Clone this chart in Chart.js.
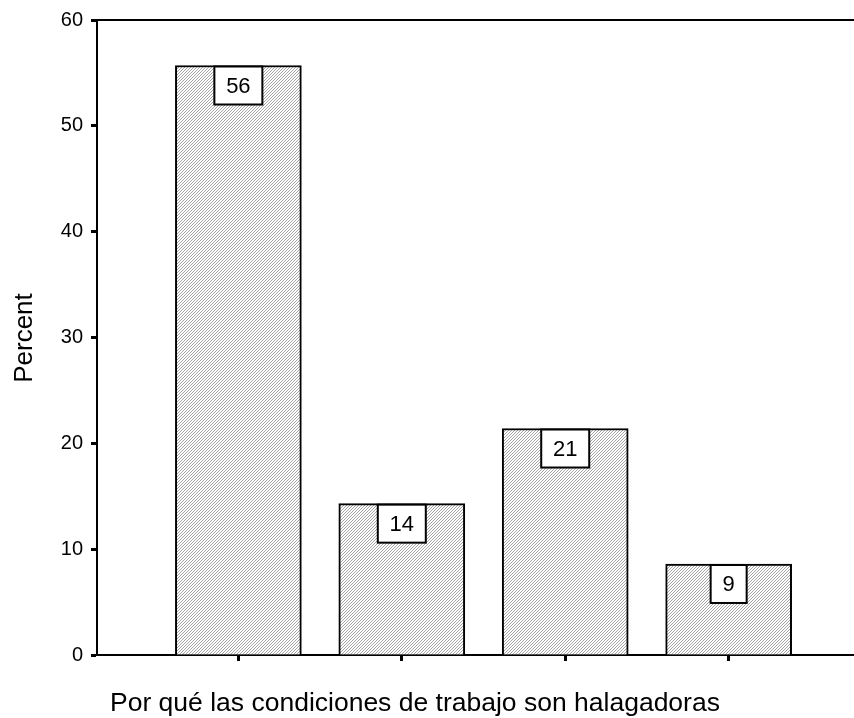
<!DOCTYPE html>
<html>
<head>
<meta charset="utf-8">
<script src="https://cdn.jsdelivr.net/npm/chart.js@4/dist/chart.umd.min.js"></script>
<style>
  body { margin: 0; background: #fff; }
  #wrap { width: 854px; height: 718px; position: relative; }
</style>
</head>
<body>
<div id="wrap"><canvas id="chartBarras"></canvas></div>
<script>
// Datos
const categorias = ['1', '2', '3', '4']; // sin etiquetas visibles en el eje
const porcentajes = [55.7, 14.3, 21.4, 8.6];
const etiquetas = ['56', '14', '21', '9'];
const ticksY = [0, 10, 20, 30, 40, 50, 60];

const tituloX = 'Por qué las condiciones de trabajo son halagadoras';
const tituloY = 'Percent';
const fuente = '"Liberation Sans", Arial, sans-serif';

// Trama de rayas diagonales (estilo SPSS)
function crearTrama() {
    const c = document.createElement('canvas');
    c.width = 3; c.height = 3;
    const g = c.getContext('2d');
    g.fillStyle = '#ffffff';
    g.fillRect(0, 0, 3, 3);
    g.fillStyle = '#a4a4a4';
    for (let i = 0; i < 3; i++) g.fillRect(2 - i, i, 1, 1);
    return g.createPattern(c, 'repeat');
}

// Borde superior, etiquetas de valor y títulos
const extras = {
    id: 'extras',
    afterDatasetsDraw(chart) {
        const ctx = chart.ctx;
        const meta = chart.getDatasetMeta(0);
        ctx.save();
        ctx.font = '22px ' + fuente;
        ctx.textAlign = 'center';
        ctx.textBaseline = 'middle';
        meta.data.forEach((bar, i) => {
            const txt = etiquetas[i];
            const w = txt.length > 1 ? 48 : 36;
            const h = 38;
            const x = bar.x - w / 2;
            const y = bar.y + 1;
            ctx.fillStyle = '#fff';
            ctx.fillRect(x, y, w, h);
            ctx.strokeStyle = '#000';
            ctx.lineWidth = 2;
            ctx.strokeRect(x, y, w, h);
            ctx.fillStyle = '#000';
            ctx.fillText(txt, bar.x, y + h / 2 + 1);
        });
        ctx.restore();
    },
    afterDraw(chart) {
        const { ctx, chartArea } = chart;
        ctx.save();
        ctx.strokeStyle = '#000';
        ctx.lineWidth = 2;
        ctx.beginPath();
        ctx.moveTo(chartArea.left - 1, chartArea.top);
        ctx.lineTo(chartArea.right, chartArea.top);
        ctx.stroke();

        ctx.fillStyle = '#000';
        ctx.font = '26.5px ' + fuente;
        ctx.textAlign = 'left';
        ctx.textBaseline = 'alphabetic';
        ctx.fillText(tituloX, 110, 711);

        ctx.font = '26px ' + fuente;
        ctx.translate(25, 338);
        ctx.rotate(-Math.PI / 2);
        ctx.textAlign = 'center';
        ctx.textBaseline = 'middle';
        ctx.fillText(tituloY, 0, 0);
        ctx.restore();
    }
};

document.addEventListener('DOMContentLoaded', () => {
    const ctx = document.getElementById('chartBarras').getContext('2d');
    new Chart(ctx, {
        type: 'bar',
        data: {
            labels: categorias,
            datasets: [{
                data: porcentajes.map((v, i) => ({ x: i, y: v })),
                backgroundColor: crearTrama(),
                borderColor: '#000',
                borderWidth: 2,
                barThickness: 126
            }]
        },
        options: {
            responsive: true,
            maintainAspectRatio: false,
            animation: false,
            layout: { padding: { top: 20, right: 0, bottom: 0, left: 0 } },
            plugins: { legend: { display: false }, tooltip: { enabled: false } },
            scales: {
                x: {
                    type: 'linear',
                    offset: false,
                    min: -0.865,
                    max: 3.767,
                    afterBuildTicks: s => { s.ticks = categorias.map((c, i) => ({ value: i })); },
                    afterFit: s => { s.height = 63; },
                    ticks: { display: false },
                    grid: { offset: false, drawOnChartArea: false, tickLength: 6, tickWidth: 3, tickColor: '#000' },
                    border: { color: '#000', width: 2 }
                },
                y: {
                    min: 0,
                    max: 60,
                    afterBuildTicks: s => { s.ticks = ticksY.map(v => ({ value: v })); },
                    afterFit: s => { s.width = 97; },
                    ticks: {
                        color: '#000',
                        padding: 8,
                        font: { family: fuente, size: 20 }
                    },
                    grid: { drawOnChartArea: false, tickLength: 6, tickWidth: 3, tickColor: '#000' },
                    border: { color: '#000', width: 2 }
                }
            }
        },
        plugins: [extras]
    });
});
</script>
</body>
</html>
